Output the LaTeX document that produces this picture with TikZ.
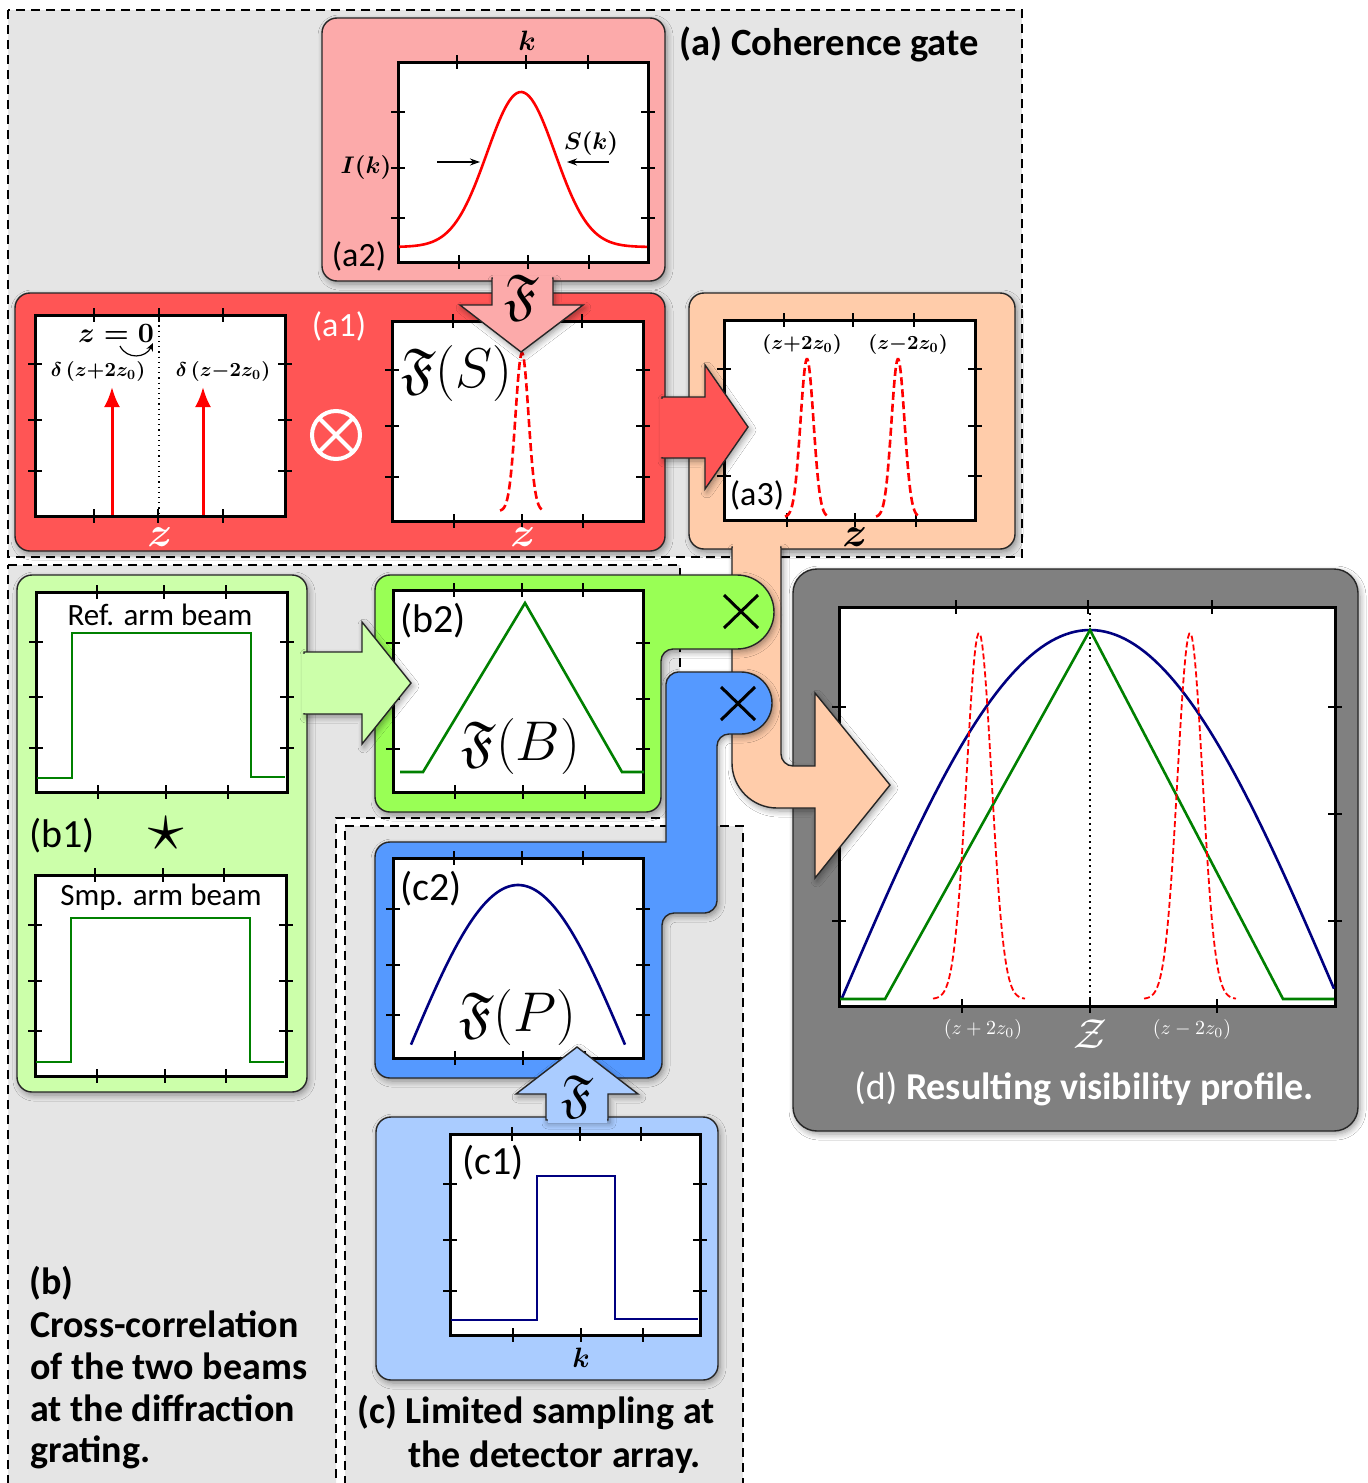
\RequirePackage{fix-cm}
\documentclass[tikz,border=0pt]{standalone}
\usepackage{amsmath,amssymb}
\usepackage[no-math]{fontspec}
\setmainfont{Carlito}
\DeclareFontFamily{U}{euf}{}
\DeclareFontShape{U}{euf}{m}{n}{<-6>eufm5<6-8>eufm7<8->eufm10}{}
\DeclareFontShape{U}{euf}{b}{n}{<-6>eufb5<6-8>eufb7<8->eufb10}{}
\DeclareFontShape{OML}{cmm}{b}{it}{<->cmmib10}{}
\DeclareFontShape{OT1}{cmr}{bx}{n}{<->cmbx10}{}
\DeclareFontShape{OMS}{cmsy}{b}{n}{<->cmbsy10}{}
\usetikzlibrary{arrows.meta,shadows.blur}
\definecolor{regiongray}{RGB}{229,229,229}
\definecolor{pinkA}{RGB}{252,170,170}
\definecolor{redA}{RGB}{255,85,85}
\definecolor{orangeA}{RGB}{255,204,170}
\definecolor{lgreen}{RGB}{204,255,170}
\definecolor{greenB}{RGB}{153,255,85}
\definecolor{blueC}{RGB}{85,153,255}
\definecolor{lblue}{RGB}{170,204,255}
\definecolor{dgray}{RGB}{128,128,128}
\definecolor{plotgreen}{RGB}{0,128,0}
\definecolor{navy}{RGB}{0,0,128}
\newcommand\fsz[2]{\fontsize{#1}{#2}\selectfont}
\newcommand\plotfr[7]{%
  \draw[plotbox] (#1,#2) rectangle (#3,#4);
  \foreach \q in {#5} {\draw[tk] (\q,#2-7) -- (\q,#2+7);}
  \foreach \q in {#6} {\draw[tk] (\q,#4-7) -- (\q,#4+7);}
  \foreach \q in {#7} {\draw[tk] (#1-7,\q) -- (#1+7,\q); \draw[tk] (#3-7,\q) -- (#3+7,\q);}
}
\begin{document}
\begin{tikzpicture}[x=0.5pt,y=-0.5pt,
  region/.style={fill=regiongray, draw=black, line width=1.3pt, dash pattern=on 4.5pt off 3pt},
  panel/.style={draw=black!85, line width=0.7pt},
  sh/.style={blur shadow={shadow blur steps=6,shadow xshift=1pt,shadow yshift=-1.5pt,shadow blur radius=3pt,shadow opacity=40}},
  plotbox/.style={fill=white, draw=black, line width=1.5pt},
  tk/.style={draw=black, line width=0.6pt},
  lbl/.style={inner sep=0pt},
  gline/.style={plotgreen, line width=1.3pt},
  nline/.style={navy, line width=1.3pt},
  rdash/.style={red, line width=1.3pt, dash pattern=on 4pt off 2pt},
  xmark/.style={black, line width=1.5pt}
]
\useasboundingbox (0,0) rectangle (1368,1483);
\clip (0,0) rectangle (1368,1483);
\fill[white] (0,0) rectangle (1368,1483);

% ---------- grey regions ----------
\path[region] (8,10) rectangle (1022,557);
\path[region] (8,565) -- (680,565) -- (680,818) -- (336,818) -- (336,1500) -- (8,1500) -- cycle;
\path[region] (345,826) -- (743,826) -- (743,1500) -- (345,1500) -- cycle;

% ---------- (d) ----------
\path[panel, fill=dgray, sh, rounded corners=12pt] (793,569) rectangle (1358,1131);
\plotfr{839}{607}{1335}{1006}{956,1088,1212}{962,1090,1217}{707,814,921}
\draw[black, dotted, line width=1pt] (1090,607) -- (1090,1006);
\draw[nline] plot[domain=842:1334, samples=100] (\x,{998-368*cos((\x-1090)/248*90)});
\draw[gline] (840,999) -- (885,999) -- (1090,630) -- (1283,999) -- (1334,999);
\draw[red, line width=0.9pt, dash pattern=on 3pt off 1.5pt] plot[domain=933:1025, samples=70] (\x,{999-366*exp(-0.5*(((\x-979)/12.5)^2))});
\draw[red, line width=0.9pt, dash pattern=on 3pt off 1.5pt] plot[domain=1144:1236, samples=70] (\x,{999-366*exp(-0.5*(((\x-1190)/12.5)^2))});
\node[lbl, text=white] (dlp) at (983,1029) {\fsz{10}{12}$(z+2z_0)$};
\node[lbl, text=white] (dlm) at (1192,1029) {\fsz{10}{12}$(z-2z_0)$};
\node[lbl, text=white] (dz) at (1090,1034) {\fsz{21}{24}$\mathcal{Z}$};
\node[lbl, text=white, anchor=base] (dcap) at (1084,1099) {\fsz{19}{23}(d) \bfseries Resulting visibility profile.};

% ---------- (a3) orange ----------
\path[panel, fill=orangeA, sh, rounded corners=7.5pt] (689,293) rectangle (1015,549);
\path[panel, fill=orangeA, sh] (732,547) -- (732,763) .. controls (732,787.8) and (752.2,808) .. (777,808) -- (815,808) -- (815,878) -- (890,785) -- (815,693) -- (815,766) -- (793,766) .. controls (786.4,766) and (781,760.6) .. (781,754) -- (781,547) -- cycle;
\fill[orangeA] (733,543) rectangle (780,553);
\plotfr{724}{320}{975}{520}{784,853,914}{787,855,916}{369,426,476}
\draw[rdash] plot[domain=785:829, samples=60] (\x,{517-158*exp(-0.5*(((\x-807)/6.5)^2))});
\draw[rdash] plot[domain=876:920, samples=60] (\x,{517-158*exp(-0.5*(((\x-898)/6.5)^2))});
\node[lbl] (a3p) at (802,344) {\fsz{10}{12}$\boldsymbol{(z{+}2z_0)}$};
\node[lbl] (a3m) at (908,344) {\fsz{10}{12}$\boldsymbol{(z{-}2z_0)}$};
\node[lbl] (a3z) at (855,537) {\fsz{21}{24}$\boldsymbol{z}$};
\node[lbl] (a3l) at (757,495) {\fsz{17}{20}(a3)};

% ---------- (a1) red ----------
\path[panel, fill=redA, sh, rounded corners=7.5pt] (15,293) rectangle (665,551);
\path[panel, fill=redA, sh] (662,397) -- (705,397) -- (705,365) -- (748,427) -- (705,489) -- (705,458) -- (662,458) -- cycle;
\fill[redA] (660,398.5) rectangle (670,456.5);
\plotfr{35}{315}{285}{516}{94,159,223}{94,158,223}{364,420,471}
\draw[black, dotted, line width=0.6pt] (159,315) -- (159,516);
\draw[red, line width=1.5pt, -{Latex[length=10pt,width=8pt]}] (112,515) -- (112,387);
\draw[red, line width=1.5pt, -{Latex[length=10pt,width=8pt]}] (203,515) -- (203,387);
\node[lbl] (z0) at (116,333) {\fsz{14}{16}$\boldsymbol{z=0}$};
\draw[line width=0.6pt, -{Stealth[length=4pt,width=3.5pt]}] (120,346) .. controls (127,360) and (146,358) .. (153,343);
\node[lbl] (dp) at (98,371) {\fsz{10}{12}$\boldsymbol{\delta\,(z{+}2z_0)}$};
\node[lbl] (dm) at (223,371) {\fsz{10}{12}$\boldsymbol{\delta\,(z{-}2z_0)}$};
\node[lbl, text=white] (a1z1) at (160,537) {\fsz{21}{24}$\boldsymbol{z}$};
\plotfr{392}{321}{643}{521}{453,522,582}{454,522,583}{370,426,477}
\draw[rdash] plot[domain=500:544, samples=60] (\x,{511-158*exp(-0.5*(((\x-522)/6.5)^2))});
\node[lbl] (FS) at (457,373) {\fsz{28}{30}$\mathfrak{F}(S)$};
\node[lbl, text=white] (a1z2) at (523,537) {\fsz{21}{24}$\boldsymbol{z}$};
\node[lbl, text=white] (a1l) at (339,326) {\fsz{17}{20}(a1)};
\draw[white, line width=2pt] (336,435) circle[radius=24];
\draw[white, line width=2pt] (319,418) -- (353,452) (353,418) -- (319,452);
\node[lbl] (otimes) at (336,435) {};

% ---------- (a2) pink ----------
\path[panel, fill=pinkA, sh, rounded corners=7.5pt] (322,18) rectangle (665,281);
\path[panel, fill=pinkA, sh] (492,278) -- (492,305) -- (460,305) -- (521,352) -- (583,305) -- (553,305) -- (553,278) -- cycle;
\fill[pinkA] (493,276) rectangle (552,284);
\node[lbl] (F1) at (522,298) {\fsz{28}{30}$\mathfrak{F}$};
\plotfr{398}{62}{648}{262}{457,526,588}{459,528,589}{112,168,218}
\draw[red, line width=1.3pt] plot[domain=399:647, samples=100] (\x,{247-155*exp(-0.5*(((\x-521)/34)^2))});
\draw[line width=0.6pt, -{Stealth[length=5pt,width=3.5pt]}] (437,162) -- (480,162);
\draw[line width=0.6pt, -{Stealth[length=5pt,width=3.5pt]}] (609,162) -- (567,162);
\node[lbl] (Sk) at (591,143) {\fsz{12}{14}$\boldsymbol{S(k)}$};
\node[lbl] (Ik) at (366,167) {\fsz{12}{14}$\boldsymbol{I(k)}$};
\node[lbl] (ka) at (527,41) {\fsz{14}{16}$\boldsymbol{k}$};
\node[lbl] (a2l) at (359,256) {\fsz{17}{20}(a2)};
\node[lbl, anchor=base west] (ta) at (679,55) {\fsz{19.3}{23}\bfseries (a) Coherence gate};

% ---------- (b2) green ----------
\path[panel, fill=greenB, sh] (390,575) -- (737,575) .. controls (757.4,575) and (774,591.6) .. (774,612) .. controls (774,632.4) and (757.4,649) .. (737,649) -- (673,649) .. controls (666.4,649) and (661,654.4) .. (661,661) -- (661,797) .. controls (661,805.3) and (654.3,812) .. (646,812) -- (390,812) .. controls (381.7,812) and (375,805.3) .. (375,797) -- (375,590) .. controls (375,581.7) and (381.7,575) .. (390,575) -- cycle;
\draw[xmark] (724,595) -- (758,628) (758,595) -- (724,628);
\plotfr{393}{590}{643}{792}{454,522,583}{455,523,585}{643,699,749}
\draw[gline] (400,772) -- (423,772) -- (525,603) -- (622,772) -- (644,772);
\node[lbl] (b2l) at (433,621) {\fsz{20}{24}(b2)};
\node[lbl] (FB) at (521,746) {\fsz{28}{30}$\mathfrak{F}(B)$};

% ---------- (c2) blue ----------
\path[panel, fill=blueC, sh] (390,842) -- (666,842) -- (666,684) .. controls (666,677.4) and (672.6,672) .. (678,672) -- (741,672) .. controls (758.1,672) and (772,685.9) .. (772,703) .. controls (772,720.1) and (758.1,734) .. (741,734) -- (729,734) .. controls (722.4,734) and (717,739.4) .. (717,746) -- (717,901) .. controls (717,907.6) and (710.4,913) .. (705,913) -- (674,913) .. controls (667.4,913) and (662,918.4) .. (662,925) -- (662,1063) .. controls (662,1071.3) and (653.7,1078) .. (647,1078) -- (390,1078) .. controls (381.7,1078) and (375,1071.3) .. (375,1063) -- (375,857) .. controls (375,848.7) and (381.7,842) .. (390,842) -- cycle;
\draw[xmark] (721,687) -- (755,720) (755,687) -- (721,720);
\plotfr{393}{858}{643}{1058}{454,522,583}{455,523,585}{909,965,1015}
\draw[nline] plot[domain=411:625, samples=80] (\x,{1047-162*cos((\x-518)/108*90)});
\node[lbl] (c2l) at (431,889) {\fsz{20}{24}(c2)};
\node[lbl] (FP) at (518,1017) {\fsz{28}{30}$\mathfrak{F}(P)$};

% ---------- (b1) light green ----------
\path[panel, fill=lgreen, sh, rounded corners=7.5pt] (17,575) rectangle (307,1092);
\path[panel, fill=lgreen, sh] (304,652) -- (362,652) -- (362,622) -- (411,683) -- (362,744) -- (362,714) -- (304,714) -- cycle;
\fill[lgreen] (302,653.5) rectangle (312,712.5);
\plotfr{36}{592}{287}{792}{97,164,226}{98,166,228}{642,697,748}
\draw[gline] (37,778) -- (72,778) -- (72,633) -- (251,633) -- (251,777) -- (285,777);
\node[lbl, anchor=base] (ref) at (160,625) {\fsz{15.5}{18}Ref. arm beam};
\node[lbl] (b1l) at (62,836) {\fsz{20}{24}(b1)};
\node[lbl] (star) at (166,834) {\fsz{36}{40}$\star$};
\plotfr{35}{875}{286}{1076}{95,163,224}{97,165,226}{925,981,1031}
\draw[gline] (36,1062) -- (71,1062) -- (71,918) -- (250,918) -- (250,1062) -- (284,1062);
\node[lbl, anchor=base] (smp) at (161,905) {\fsz{15.5}{18}Smp. arm beam};

% ---------- (c1) light blue ----------
\path[panel, fill=lblue, sh, rounded corners=7.5pt] (376,1117) rectangle (718,1380);
\path[panel, fill=lblue, sh] (546,1120) -- (546,1094) -- (516,1094) -- (577,1047) -- (638,1094) -- (608,1094) -- (608,1120) -- cycle;
\fill[lblue] (547.5,1114) rectangle (606.5,1123);
\node[lbl] (F2) at (577,1097) {\fsz{26}{28}$\mathfrak{F}$};
\plotfr{450}{1134}{700}{1335}{512,580,641}{513,581,643}{1184,1240,1291}
\draw[nline] (451,1320) -- (537,1320) -- (537,1176) -- (615,1176) -- (615,1319) -- (698,1319);
\node[lbl] (c1l) at (493,1163) {\fsz{20}{24}(c1)};
\node[lbl] (kc) at (581,1358) {\fsz{14}{16}$\boldsymbol{k}$};

% ---------- captions ----------
\node[lbl, anchor=base west] (cc1) at (357,1423) {\fsz{19}{23}\bfseries (c) Limited sampling at};
\node[lbl, anchor=base west] (cc2) at (408,1467) {\fsz{19}{23}\bfseries the detector array.};
\node[lbl, anchor=base west] (bc1) at (29,1294) {\fsz{19}{23}\bfseries (b)};
\node[lbl, anchor=base west] (bc2) at (30,1337) {\fsz{19}{23}\bfseries Cross-correlation};
\node[lbl, anchor=base west] (bc3) at (30,1379) {\fsz{19}{23}\bfseries of the two beams};
\node[lbl, anchor=base west] (bc4) at (30,1421) {\fsz{19}{23}\bfseries at the diffraction};
\node[lbl, anchor=base west] (bc5) at (30,1462) {\fsz{19}{23}\bfseries grating.};
\end{tikzpicture}
\end{document}
